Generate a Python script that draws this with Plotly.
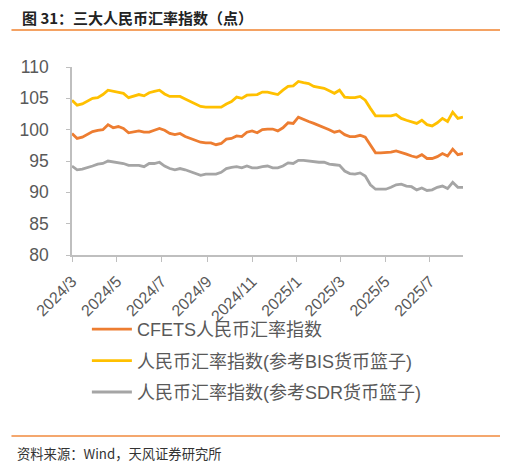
import pandas as pd
import plotly.graph_objects as go

# weekly readings, first point 2024-03-01
start = "2024-03-01"
cfets = [99.4, 98.6, 98.8, 99.2, 99.7, 99.9, 100.0, 100.8, 100.3, 100.5,
         100.2, 99.5, 99.7, 99.8, 99.6, 99.6, 99.9, 100.2, 99.9, 99.4,
         99.2, 99.4, 98.9, 98.6, 98.3, 98.0, 97.9, 97.9, 97.6, 97.8,
         98.5, 98.6, 99.0, 98.9, 99.6, 99.8, 99.5, 100.0, 100.1, 100.1,
         99.8, 100.3, 101.1, 101.0, 102.0, 101.6, 101.3, 101.0, 100.7, 100.4,
         100.0, 99.6, 99.8, 99.2, 98.9, 98.9, 99.1, 98.8, 97.5, 96.3,
         96.3, 96.3, 96.4, 96.6, 96.4, 96.1, 95.8, 95.6, 96.0, 95.4,
         95.4, 95.7, 96.2, 95.8, 96.9, 96.0, 96.2]
bis = [104.7, 103.9, 104.1, 104.6, 105.0, 105.1, 105.6, 106.3, 106.1, 106.0,
       105.8, 105.1, 105.3, 105.6, 105.4, 105.9, 106.1, 106.3, 105.7, 105.3,
       105.3, 105.3, 104.9, 104.5, 104.1, 103.7, 103.6, 103.6, 103.6, 103.6,
       104.1, 104.5, 105.2, 105.0, 105.5, 105.5, 105.6, 106.0, 106.0, 105.8,
       105.6, 106.3, 106.9, 107.0, 107.7, 107.5, 107.35, 106.9, 106.7, 106.6,
       106.2, 105.8, 106.3, 105.2, 105.1, 105.1, 105.3, 104.7, 103.4, 102.2,
       102.2, 102.2, 102.2, 102.4, 101.8, 101.5, 101.3, 101.0, 101.5, 100.8,
       100.6, 101.1, 101.8, 101.3, 102.8, 101.8, 102.0]
sdr = [94.2, 93.6, 93.7, 93.9, 94.2, 94.5, 94.6, 95.0, 94.9, 94.8,
       94.6, 94.3, 94.3, 94.3, 94.1, 94.6, 94.6, 94.8, 94.2, 93.8,
       93.6, 93.8, 93.6, 93.3, 93.0, 92.7, 92.9, 92.9, 92.9, 93.2,
       93.8, 94.0, 94.1, 93.9, 94.2, 93.9, 93.9, 94.1, 94.2, 93.9,
       93.9, 94.2, 94.7, 94.6, 95.1, 95.1, 95.0, 94.8, 94.8, 94.8,
       94.5, 94.4, 94.3, 93.4, 93.0, 92.9, 93.1, 92.6, 91.2, 90.5,
       90.5, 90.5, 90.8, 91.2, 91.3, 91.0, 90.9, 90.4, 90.7, 90.3,
       90.4, 90.8, 91.0, 90.6, 91.6, 90.8, 90.8]
names = ["CFETS人民币汇率指数", "人民币汇率指数(参考BIS货币篮子)", "人民币汇率指数(参考SDR货币篮子)"]
colors = ["#ED7D31", "#FFC000", "#A5A5A5"]
tick_dates = ["2024-03-01", "2024-05-01", "2024-07-01", "2024-09-01", "2024-11-01",
              "2025-01-01", "2025-03-01", "2025-05-01", "2025-07-01"]
tick_text = ["2024/3", "2024/5", "2024/7", "2024/9", "2024/11",
             "2025/1", "2025/3", "2025/5", "2025/7"]

dates = pd.date_range(start, periods=len(cfets), freq="7D")

# the page body adds an 8px margin, so the figure is drawn 8px smaller
OFF = 8
W, H = 508 - OFF, 466 - OFF
L, R, T, B = 69 - OFF, 463 - OFF, 67 - OFF, 255 - OFF  # plot box in figure pixels

def px(x):
    return (x - OFF - L) / (R - L)

def py(y):
    return (B - (y - OFF)) / (B - T)

fig = go.Figure()
for vals, nm, c in zip([cfets, bis, sdr], names, colors):
    fig.add_trace(go.Scatter(x=dates, y=vals, mode="lines", name=nm, legendgroup=nm,
                             line=dict(color=c, width=2.8)))

font = "Liberation Sans, Arial, Noto Sans CJK SC"
fig.update_layout(
    width=W, height=H,
    margin=dict(l=L, r=W - R, t=T, b=H - B),
    paper_bgcolor="white", plot_bgcolor="white",
    font=dict(family=font, color="#595959"),
    showlegend=True,
    legend=dict(x=px(84), y=py(311), xanchor="left", yanchor="top",
                font=dict(size=18, color="#595959"), itemwidth=40,
                tracegroupgap=5, bgcolor="rgba(0,0,0,0)"),
)
fig.update_xaxes(range=[dates[0], dates[-1]], tickvals=tick_dates, ticktext=tick_text,
                 tickangle=-45, tickfont=dict(size=16, color="#595959"),
                 showgrid=False, showline=True, linecolor="#BFBFBF", linewidth=1.5,
                 ticks="outside", ticklen=5, tickcolor="#BFBFBF", zeroline=False,
                 ticklabelstandoff=4)
fig.update_yaxes(range=[80, 110], dtick=5, tickfont=dict(size=17.5, color="#595959"),
                 showgrid=False, showline=True, linecolor="#BFBFBF", linewidth=1.5,
                 ticks="outside", ticklen=4, tickcolor="#BFBFBF", zeroline=False,
                 ticklabelstandoff=14)

fig.add_annotation(text="图 31：三大人民币汇率指数（点）", x=px(17), y=py(17),
                   xref="paper", yref="paper", xanchor="left", yanchor="middle",
                   showarrow=False,
                   font=dict(size=15, color="#222222", family="Noto Sans CJK SC", weight=700))
fig.add_annotation(text="资料来源：Wind，天风证券研究所", x=px(12), y=py(453),
                   xref="paper", yref="paper", xanchor="left", yanchor="middle",
                   showarrow=False, font=dict(size=13.3, color="#333333", family="Noto Sans CJK SC"))
fig.add_shape(type="line", xref="paper", yref="paper", x0=px(8), x1=px(506),
              y0=py(30), y1=py(30), line=dict(color="#F4A263", width=2))
fig.add_shape(type="line", xref="paper", yref="paper", x0=px(8), x1=px(502),
              y0=py(436), y1=py(436), line=dict(color="#F08A3E", width=1.5))

fig.write_html("out.html")
